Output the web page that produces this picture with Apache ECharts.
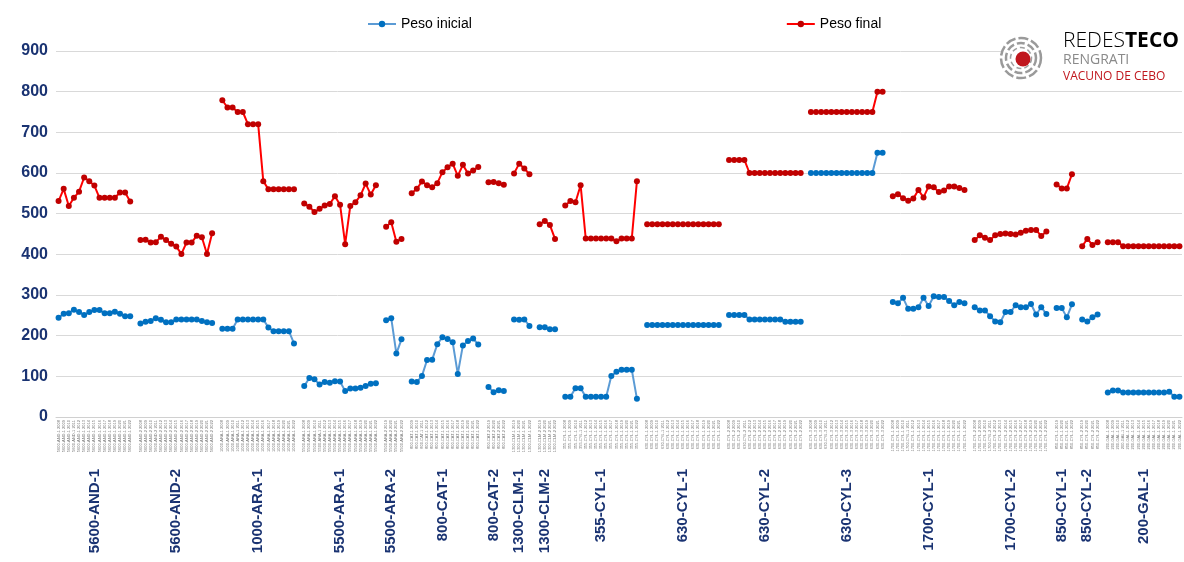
<!DOCTYPE html>
<html>
<head>
<meta charset="utf-8">
<script src="https://cdn.jsdelivr.net/npm/echarts@6/dist/echarts.min.js"></script>
<style>
  html, body { margin: 0; padding: 0; background: #fff; }
  #chart { width: 1184px; height: 562px; }
</style>
</head>
<body>
<div id="chart"></div>
<script>
// grupos (explotaciones) y su primer año de datos
const grupos = ['5600-AND-1', '5600-AND-2', '1000-ARA-1', '5500-ARA-1', '5500-ARA-2', '800-CAT-1',
  '800-CAT-2', '1300-CLM-1', '1300-CLM-2', '355-CYL-1', '630-CYL-1', '630-CYL-2', '630-CYL-3',
  '1700-CYL-1', '1700-CYL-2', '850-CYL-1', '850-CYL-2', '200-GAL-1'];
const primerAnio = [2008, 2008, 2008, 2008, 2019, 2009, 2019, 2019, 2019, 2008, 2008, 2008, 2008,
  2008, 2008, 2019, 2019, 2008];

const pesoInicial = [
  [244, 254, 255, 264, 258, 251, 258, 263, 263, 255, 255, 259, 254, 248, 248],
  [230, 234, 236, 243, 239, 233, 233, 240, 240, 240, 240, 240, 236, 233, 231],
  [217, 217, 217, 240, 240, 240, 240, 240, 240, 220, 211, 211, 211, 211, 181],
  [76, 96, 93, 80, 86, 84, 88, 87, 64, 70, 70, 72, 76, 82, 83],
  [238, 243, 156, 191],
  [87, 86, 101, 140, 141, 179, 196, 192, 184, 106, 176, 187, 193, 178],
  [74, 61, 66, 64],
  [240, 239, 240, 224],
  [221, 221, 216, 216],
  [50, 50, 71, 71, 50, 50, 50, 50, 50, 101, 111, 116, 116, 116, 45],
  [226, 226, 226, 226, 226, 226, 226, 226, 226, 226, 226, 226, 226, 226, 226],
  [251, 251, 251, 251, 240, 240, 240, 240, 240, 240, 240, 234, 234, 234, 234],
  [600, 600, 600, 600, 600, 600, 600, 600, 600, 600, 600, 600, 600, 650, 650],
  [283, 280, 293, 266, 266, 270, 293, 273, 297, 295, 295, 285, 275, 283, 280],
  [270, 262, 262, 248, 235, 233, 258, 258, 275, 270, 270, 278, 252, 270, 253],
  [268, 268, 245, 277],
  [240, 235, 245, 252],
  [60, 65, 65, 60, 60, 60, 60, 60, 60, 60, 60, 60, 62, 50, 50]
];

const pesoFinal = [
  [531, 561, 519, 539, 554, 589, 580, 569, 539, 539, 539, 539, 552, 552, 530],
  [435, 436, 429, 430, 443, 435, 426, 419, 401, 429, 429, 446, 442, 401, 452],
  [779, 761, 761, 750, 750, 720, 720, 720, 580, 560, 560, 560, 560, 560, 560],
  [525, 517, 504, 512, 520, 524, 543, 522, 425, 519, 528, 545, 574, 547, 570],
  [468, 479, 431, 438],
  [550, 561, 579, 570, 565, 575, 602, 614, 623, 593, 620, 599, 606, 615],
  [577, 578, 575, 571],
  [599, 623, 611, 597],
  [474, 482, 472, 438],
  [520, 531, 528, 570, 439, 439, 439, 439, 439, 439, 432, 439, 439, 439, 580],
  [474, 474, 474, 474, 474, 474, 474, 474, 474, 474, 474, 474, 474, 474, 474],
  [632, 632, 632, 632, 600, 600, 600, 600, 600, 600, 600, 600, 600, 600, 600],
  [750, 750, 750, 750, 750, 750, 750, 750, 750, 750, 750, 750, 750, 800, 800],
  [543, 548, 538, 532, 537, 558, 540, 567, 565, 553, 557, 567, 567, 563, 558],
  [435, 447, 441, 435, 447, 450, 451, 450, 449, 453, 458, 460, 460, 445, 456],
  [572, 562, 562, 597],
  [420, 438, 423, 430],
  [430, 430, 430, 420, 420, 420, 420, 420, 420, 420, 420, 420, 420, 420, 420]
];

const yTicks = [0, 100, 200, 300, 400, 500, 600, 700, 800, 900];

// categorías con un hueco vacío entre grupos
const categorias = [];
const serieInicial = [];
const serieFinal = [];
const etiquetaGrupo = {};
grupos.forEach((g, gi) => {
  const start = categorias.length;
  pesoInicial[gi].forEach((v, i) => {
    categorias.push(g + ' ' + (primerAnio[gi] + i));
    serieInicial.push(v);
    serieFinal.push(pesoFinal[gi][i]);
  });
  etiquetaGrupo[start + Math.floor((pesoInicial[gi].length - 1) / 2)] = g;
  if (gi < grupos.length - 1) {
    categorias.push('');
    serieInicial.push(null);
    serieFinal.push(null);
  }
});

const navy = '#1a3372';
const chart = echarts.init(document.getElementById('chart'));
chart.setOption({
  animation: false,
  textStyle: { fontFamily: 'Liberation Sans, Arial, sans-serif' },
  legend: {
    top: 12,
    left: 362,
    itemGap: 314,
    itemWidth: 28,
    itemHeight: 8,
    textStyle: { fontSize: 14, color: '#000' },
    data: ['Peso inicial', 'Peso final']
  },
  grid: { left: 56, right: 2, top: 51, bottom: 145 },
  xAxis: [
    {
      type: 'category',
      data: categorias,
      boundaryGap: true,
      axisLine: { lineStyle: { color: '#d0d0d0', width: 1 } },
      axisTick: { show: false },
      axisLabel: { interval: 0, rotate: 90, fontSize: 4, color: '#777', margin: 3 }
    },
    {
      type: 'category',
      data: categorias,
      position: 'bottom',
      boundaryGap: true,
      axisLine: { show: false },
      axisTick: { show: false },
      axisLabel: {
        interval: 0,
        rotate: 90,
        margin: 52,
        fontSize: 15,
        fontWeight: 'bold',
        color: navy,
        formatter: (v, i) => etiquetaGrupo[i] || ''
      }
    }
  ],
  yAxis: {
    type: 'value',
    min: yTicks[0],
    max: yTicks[yTicks.length - 1],
    interval: 100,
    axisLine: { show: false },
    axisTick: { show: false },
    axisLabel: { fontSize: 16, fontWeight: 'bold', color: navy, margin: 8 },
    splitLine: { lineStyle: { color: '#d9d9d9', width: 1 } }
  },
  series: [
    {
      name: 'Peso inicial',
      type: 'line',
      data: serieInicial,
      symbol: 'circle',
      symbolSize: 6,
      connectNulls: false,
      lineStyle: { color: '#5b9bd5', width: 2 },
      itemStyle: { color: '#0070c0' }
    },
    {
      name: 'Peso final',
      type: 'line',
      data: serieFinal,
      symbol: 'circle',
      symbolSize: 6,
      connectNulls: false,
      lineStyle: { color: '#ff0000', width: 2 },
      itemStyle: { color: '#c00000' }
    }
  ],
  graphic: [
    { type: 'rect', shape: { x: 1003, y: 30, width: 181, height: 56 }, style: { fill: '#fff' }, z: 10 },
    { type: 'circle', shape: { cx: 1021, cy: 58, r: 20 }, style: { fill: 'none', stroke: '#9a9a9a', lineWidth: 2.5, lineDash: [10, 3] }, z: 11 },
    { type: 'circle', shape: { cx: 1021, cy: 58, r: 15 }, style: { fill: 'none', stroke: '#9a9a9a', lineWidth: 2.5, lineDash: [8, 3] }, z: 11 },
    { type: 'circle', shape: { cx: 1021, cy: 58, r: 10.5 }, style: { fill: 'none', stroke: '#a0a0a0', lineWidth: 1.5, lineDash: [5, 3] }, z: 11 },
    { type: 'circle', shape: { cx: 1023, cy: 59, r: 7.5 }, style: { fill: '#c0161d' }, z: 12 },
    {
      type: 'text', left: 1063, top: 31, z: 12,
      style: {
        text: '{a|REDES}{b|TECO}',
        rich: {
          a: { fontSize: 21, color: '#8a8a8a', fontFamily: 'Open Sans, sans-serif', fontWeight: 300 },
          b: { fontSize: 21, color: '#8a8a8a', fontFamily: 'Open Sans, sans-serif', fontWeight: 'bold' }
        }
      }
    },
    { type: 'text', left: 1063, top: 53, z: 12, style: { text: 'RENGRATI', fontSize: 14, fill: '#8a8a8a', fontFamily: 'Open Sans, sans-serif' } },
    { type: 'text', left: 1063, top: 71, z: 12, style: { text: 'VACUNO DE CEBO', fontSize: 12, fill: '#c0161d', fontFamily: 'Open Sans, sans-serif' } }
  ]
});
</script>
</body>
</html>
